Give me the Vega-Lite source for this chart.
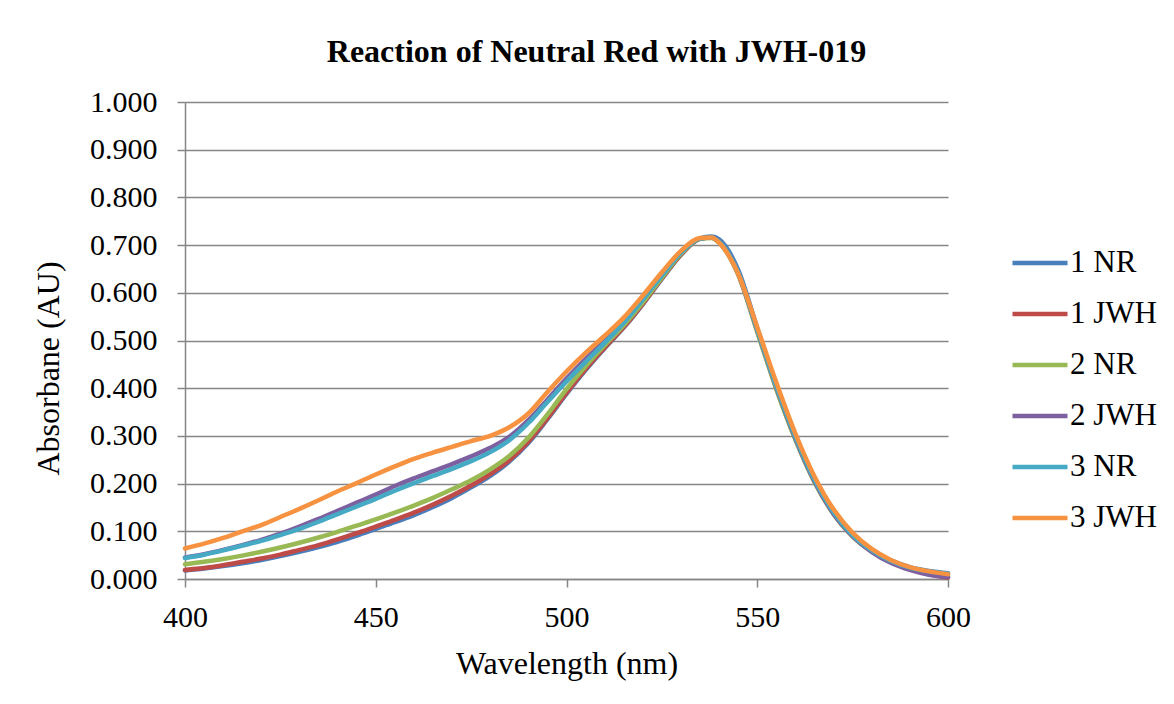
{
  "$schema": "https://vega.github.io/schema/vega-lite/v6.json",
  "width": 763,
  "height": 477,
  "autosize": {"type": "none"},
  "padding": {"left": 185, "top": 102, "right": 226, "bottom": 125},
  "background": "white",
  "title": {
    "text": "Reaction of Neutral Red with JWH-019",
    "font": "Liberation Serif, Times New Roman, serif",
    "fontSize": 32,
    "fontWeight": "bold",
    "color": "black",
    "anchor": "middle",
    "dx": 30,
    "offset": 18
  },
  "config": {
    "view": {"stroke": null},
    "font": "Liberation Serif, Times New Roman, serif"
  },
  "data": {
    "values": [
      {"w": 400, "1 NR": 0.018, "1 JWH": 0.019, "2 NR": 0.031, "2 JWH": 0.045, "3 NR": 0.044, "3 JWH": 0.064},
      {"w": 405, "1 NR": 0.022, "1 JWH": 0.023, "2 NR": 0.036, "2 JWH": 0.052, "3 NR": 0.051, "3 JWH": 0.074},
      {"w": 410, "1 NR": 0.027, "1 JWH": 0.029, "2 NR": 0.042, "2 JWH": 0.061, "3 NR": 0.060, "3 JWH": 0.086},
      {"w": 415, "1 NR": 0.033, "1 JWH": 0.036, "2 NR": 0.049, "2 JWH": 0.071, "3 NR": 0.070, "3 JWH": 0.100},
      {"w": 420, "1 NR": 0.040, "1 JWH": 0.043, "2 NR": 0.057, "2 JWH": 0.082, "3 NR": 0.080, "3 JWH": 0.113},
      {"w": 425, "1 NR": 0.048, "1 JWH": 0.051, "2 NR": 0.066, "2 JWH": 0.095, "3 NR": 0.092, "3 JWH": 0.130},
      {"w": 430, "1 NR": 0.057, "1 JWH": 0.061, "2 NR": 0.076, "2 JWH": 0.110, "3 NR": 0.105, "3 JWH": 0.147},
      {"w": 435, "1 NR": 0.067, "1 JWH": 0.071, "2 NR": 0.087, "2 JWH": 0.126, "3 NR": 0.120, "3 JWH": 0.165},
      {"w": 440, "1 NR": 0.078, "1 JWH": 0.083, "2 NR": 0.099, "2 JWH": 0.143, "3 NR": 0.136, "3 JWH": 0.184},
      {"w": 445, "1 NR": 0.091, "1 JWH": 0.096, "2 NR": 0.112, "2 JWH": 0.160, "3 NR": 0.152, "3 JWH": 0.201},
      {"w": 450, "1 NR": 0.105, "1 JWH": 0.110, "2 NR": 0.125, "2 JWH": 0.177, "3 NR": 0.168, "3 JWH": 0.219},
      {"w": 455, "1 NR": 0.119, "1 JWH": 0.124, "2 NR": 0.139, "2 JWH": 0.195, "3 NR": 0.185, "3 JWH": 0.236},
      {"w": 460, "1 NR": 0.134, "1 JWH": 0.139, "2 NR": 0.154, "2 JWH": 0.211, "3 NR": 0.201, "3 JWH": 0.252},
      {"w": 465, "1 NR": 0.151, "1 JWH": 0.156, "2 NR": 0.170, "2 JWH": 0.226, "3 NR": 0.216, "3 JWH": 0.265},
      {"w": 470, "1 NR": 0.170, "1 JWH": 0.175, "2 NR": 0.188, "2 JWH": 0.241, "3 NR": 0.231, "3 JWH": 0.277},
      {"w": 475, "1 NR": 0.192, "1 JWH": 0.196, "2 NR": 0.207, "2 JWH": 0.257, "3 NR": 0.247, "3 JWH": 0.289},
      {"w": 480, "1 NR": 0.216, "1 JWH": 0.220, "2 NR": 0.230, "2 JWH": 0.275, "3 NR": 0.266, "3 JWH": 0.300},
      {"w": 485, "1 NR": 0.246, "1 JWH": 0.249, "2 NR": 0.258, "2 JWH": 0.298, "3 NR": 0.291, "3 JWH": 0.318},
      {"w": 490, "1 NR": 0.285, "1 JWH": 0.288, "2 NR": 0.296, "2 JWH": 0.333, "3 NR": 0.327, "3 JWH": 0.347},
      {"w": 495, "1 NR": 0.335, "1 JWH": 0.337, "2 NR": 0.345, "2 JWH": 0.376, "3 NR": 0.371, "3 JWH": 0.392},
      {"w": 500, "1 NR": 0.388, "1 JWH": 0.390, "2 NR": 0.398, "2 JWH": 0.420, "3 NR": 0.414, "3 JWH": 0.435},
      {"w": 505, "1 NR": 0.438, "1 JWH": 0.440, "2 NR": 0.446, "2 JWH": 0.461, "3 NR": 0.455, "3 JWH": 0.474},
      {"w": 510, "1 NR": 0.484, "1 JWH": 0.485, "2 NR": 0.490, "2 JWH": 0.500, "3 NR": 0.495, "3 JWH": 0.510},
      {"w": 515, "1 NR": 0.527, "1 JWH": 0.528, "2 NR": 0.532, "2 JWH": 0.541, "3 NR": 0.537, "3 JWH": 0.548},
      {"w": 520, "1 NR": 0.576, "1 JWH": 0.577, "2 NR": 0.580, "2 JWH": 0.589, "3 NR": 0.586, "3 JWH": 0.594},
      {"w": 525, "1 NR": 0.629, "1 JWH": 0.630, "2 NR": 0.632, "2 JWH": 0.639, "3 NR": 0.636, "3 JWH": 0.643},
      {"w": 530, "1 NR": 0.680, "1 JWH": 0.680, "2 NR": 0.682, "2 JWH": 0.686, "3 NR": 0.684, "3 JWH": 0.688},
      {"w": 535, "1 NR": 0.714, "1 JWH": 0.713, "2 NR": 0.713, "2 JWH": 0.714, "3 NR": 0.714, "3 JWH": 0.715},
      {"w": 538, "1 NR": 0.718, "1 JWH": 0.716, "2 NR": 0.715, "2 JWH": 0.716, "3 NR": 0.716, "3 JWH": 0.716},
      {"w": 540, "1 NR": 0.712, "1 JWH": 0.707, "2 NR": 0.705, "2 JWH": 0.706, "3 NR": 0.707, "3 JWH": 0.705},
      {"w": 545, "1 NR": 0.648, "1 JWH": 0.640, "2 NR": 0.638, "2 JWH": 0.640, "3 NR": 0.642, "3 JWH": 0.640},
      {"w": 550, "1 NR": 0.526, "1 JWH": 0.520, "2 NR": 0.518, "2 JWH": 0.522, "3 NR": 0.523, "3 JWH": 0.528},
      {"w": 555, "1 NR": 0.404, "1 JWH": 0.400, "2 NR": 0.398, "2 JWH": 0.402, "3 NR": 0.404, "3 JWH": 0.412},
      {"w": 560, "1 NR": 0.296, "1 JWH": 0.294, "2 NR": 0.292, "2 JWH": 0.295, "3 NR": 0.298, "3 JWH": 0.305},
      {"w": 565, "1 NR": 0.207, "1 JWH": 0.205, "2 NR": 0.203, "2 JWH": 0.205, "3 NR": 0.208, "3 JWH": 0.215},
      {"w": 570, "1 NR": 0.139, "1 JWH": 0.137, "2 NR": 0.136, "2 JWH": 0.137, "3 NR": 0.140, "3 JWH": 0.146},
      {"w": 575, "1 NR": 0.092, "1 JWH": 0.090, "2 NR": 0.089, "2 JWH": 0.090, "3 NR": 0.092, "3 JWH": 0.097},
      {"w": 580, "1 NR": 0.060, "1 JWH": 0.058, "2 NR": 0.058, "2 JWH": 0.057, "3 NR": 0.060, "3 JWH": 0.063},
      {"w": 585, "1 NR": 0.039, "1 JWH": 0.035, "2 NR": 0.036, "2 JWH": 0.034, "3 NR": 0.038, "3 JWH": 0.040},
      {"w": 590, "1 NR": 0.025, "1 JWH": 0.020, "2 NR": 0.022, "2 JWH": 0.019, "3 NR": 0.024, "3 JWH": 0.025},
      {"w": 595, "1 NR": 0.017, "1 JWH": 0.010, "2 NR": 0.013, "2 JWH": 0.009, "3 NR": 0.016, "3 JWH": 0.016},
      {"w": 600, "1 NR": 0.012, "1 JWH": 0.003, "2 NR": 0.008, "2 JWH": 0.004, "3 NR": 0.011, "3 JWH": 0.010}
    ]
  },
  "transform": [
    {"fold": ["1 NR", "1 JWH", "2 NR", "2 JWH", "3 NR", "3 JWH"], "as": ["series", "a"]}
  ],
  "mark": {"type": "line", "interpolate": "monotone", "strokeWidth": 4.5, "strokeCap": "round", "strokeJoin": "round"},
  "encoding": {
    "x": {
      "field": "w",
      "type": "quantitative",
      "scale": {"domain": [400, 600], "nice": false, "zero": false},
      "axis": {
        "title": "Wavelength (nm)",
        "values": [400, 450, 500, 550, 600],
        "grid": false,
        "labelFlush": false,
        "labelOverlap": false,
        "domainColor": "#868686",
        "domainWidth": 1.5,
        "tickColor": "#868686",
        "tickWidth": 1.5,
        "tickSize": 8,
        "labelFont": "Liberation Serif, Times New Roman, serif",
        "labelFontSize": 30,
        "labelColor": "black",
        "labelPadding": 15,
        "titleFont": "Liberation Serif, Times New Roman, serif",
        "titleFontSize": 32,
        "titleFontWeight": "normal",
        "titleColor": "black",
        "titlePadding": 16
      }
    },
    "y": {
      "field": "a",
      "type": "quantitative",
      "scale": {"domain": [0, 1], "nice": false},
      "axis": {
        "title": "Absorbane (AU)",
        "values": [0, 0.1, 0.2, 0.3, 0.4, 0.5, 0.6, 0.7, 0.8, 0.9, 1.0],
        "format": ".3f",
        "grid": true,
        "labelFlush": false,
        "labelOverlap": false,
        "gridColor": "#868686",
        "gridWidth": 1.5,
        "domainColor": "#868686",
        "domainWidth": 1.5,
        "tickColor": "#868686",
        "tickWidth": 1.5,
        "tickSize": 8,
        "labelFont": "Liberation Serif, Times New Roman, serif",
        "labelFontSize": 30,
        "labelColor": "black",
        "labelPadding": 20,
        "titleFont": "Liberation Serif, Times New Roman, serif",
        "titleFontSize": 32,
        "titleFontWeight": "normal",
        "titleColor": "black",
        "titlePadding": 24,
        "titleY": 266
      }
    },
    "color": {
      "field": "series",
      "type": "nominal",
      "sort": ["1 NR", "1 JWH", "2 NR", "2 JWH", "3 NR", "3 JWH"],
      "scale": {
        "domain": ["1 NR", "1 JWH", "2 NR", "2 JWH", "3 NR", "3 JWH"],
        "range": ["#4A7EBB", "#BE4B48", "#98B954", "#7D60A0", "#46AAC5", "#F69240"]
      },
      "legend": {
        "title": null,
        "orient": "none",
        "legendX": 825,
        "legendY": 131,
        "symbolType": "stroke",
        "symbolSize": 3025,
        "symbolStrokeWidth": 4.5,
        "labelFont": "Liberation Serif, Times New Roman, serif",
        "labelFontSize": 31,
        "labelColor": "black",
        "labelOffset": 0,
        "rowPadding": 6,
        "padding": 0
      }
    }
  }
}
